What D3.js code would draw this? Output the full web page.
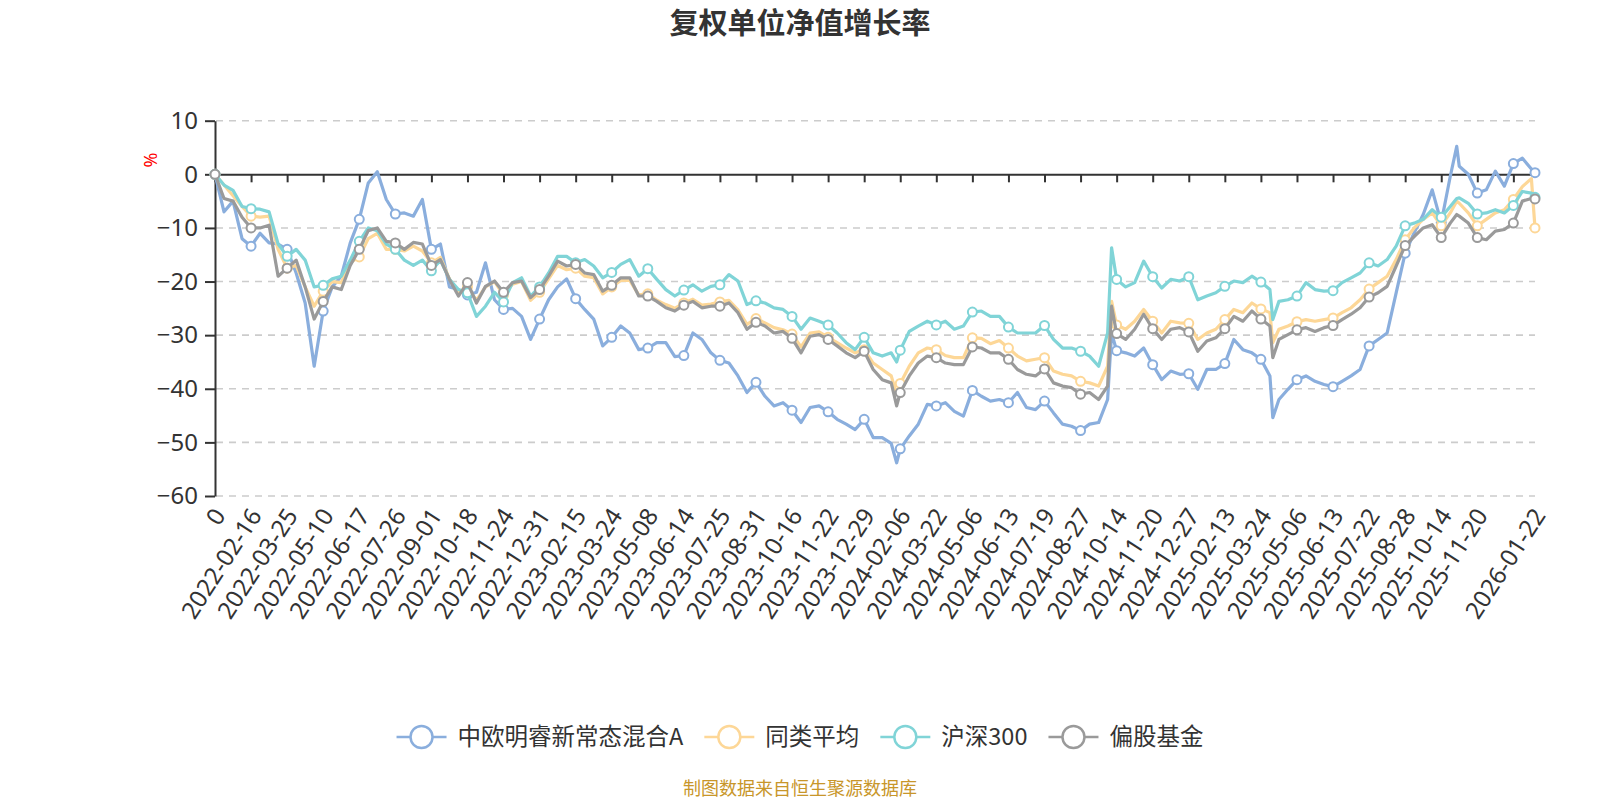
<!DOCTYPE html>
<html>
<head>
<meta charset="utf-8">
<script src="https://cdn.jsdelivr.net/npm/d3@7"></script>
<style>
  body { margin: 0; background: #fff; }
  svg { display: block; font-family: "Noto Sans", "Noto Sans CJK SC", sans-serif; }
</style>
</head>
<body>
<div id="chart"></div>
<script>
// frame
const FRAME_WIDTH = 1600;
const FRAME_HEIGHT = 800;
const MARGINS = {left: 215, right: 65, top: 120.7, bottom: 304};

// x labels (one per tick, the last one sits on the last trading day)
const tickLabels = ["0", "2022-02-16", "2022-03-25", "2022-05-10", "2022-06-17", "2022-07-26",
  "2022-09-01", "2022-10-18", "2022-11-24", "2022-12-31", "2023-02-15", "2023-03-24",
  "2023-05-08", "2023-06-14", "2023-07-25", "2023-08-31", "2023-10-16", "2023-11-22",
  "2023-12-29", "2024-02-06", "2024-03-22", "2024-05-06", "2024-06-13", "2024-07-19",
  "2024-08-27", "2024-10-14", "2024-11-20", "2024-12-27", "2025-02-13", "2025-03-24",
  "2025-05-06", "2025-06-13", "2025-07-22", "2025-08-28", "2025-10-14", "2025-11-20",
  "2026-01-22"];
const tickPos = [0, 1, 2, 3, 4, 5, 6, 7, 8, 9, 10, 11, 12, 13, 14, 15, 16, 17, 18, 19, 20,
  21, 22, 23, 24, 25, 26, 27, 28, 29, 30, 31, 32, 33, 34, 35, 36];
const yTicks = [-60, -50, -40, -30, -20, -10, 0, 10];

// sample positions, in tick intervals (about 26 trading days each)
const pos = [
  0, 0.25, 0.5, 0.75,   1, 1.25, 1.5, 1.75,   2, 2.25, 2.5, 2.75,   3, 3.25, 3.5, 3.75,
  4, 4.25, 4.5, 4.75,   5, 5.25, 5.5, 5.75,   6, 6.25, 6.5, 6.75,   7, 7.25, 7.5, 7.75,
  8, 8.25, 8.5, 8.75,   9, 9.25, 9.5, 9.75,   10, 10.25, 10.5, 10.75,   11, 11.25, 11.5, 11.75,
  12, 12.25, 12.5, 12.75,   13, 13.25, 13.5, 13.75,   14, 14.25, 14.5, 14.75,   15, 15.25, 15.5, 15.75,
  16, 16.25, 16.5, 16.75,   17, 17.25, 17.5, 17.75,   18, 18.25, 18.5, 18.75, 18.9,
  19, 19.25, 19.5, 19.75,   20, 20.25, 20.5, 20.75,   21, 21.25, 21.5, 21.75,   22, 22.25, 22.5, 22.75,
  23, 23.25, 23.5, 23.75,   24, 24.25, 24.5, 24.75, 24.86,   25, 25.25, 25.5, 25.75,
  26, 26.25, 26.5, 26.75,   27, 27.25, 27.5, 27.75,   28, 28.25, 28.5, 28.75,
  29, 29.25, 29.33, 29.5, 29.75,   30, 30.25, 30.5, 30.75,   31, 31.25, 31.5, 31.75,
  32, 32.25, 32.5, 32.75,   33, 33.25, 33.5, 33.75,   34, 34.25, 34.43, 34.5, 34.75,
  35, 35.25, 35.5, 35.75,   36, 36.25, 36.5, 36.6];

// 中欧明睿新常态混合A
const fundValues = [
  0, -7, -5, -12,   -13.4, -11, -12.8, -13,   -14, -18.4, -24, -35.8,   -25.5, -21, -19, -12.8,
  -8.4, -1.6, 0.5, -4.7,   -7.4, -7.2, -7.8, -4.7,   -14, -13, -21, -21.5,   -22.5, -22, -16.5, -23.4,
  -25.2, -25, -26.5, -30.8,   -27, -23.4, -21, -19.5,   -23.2, -25.2, -27, -32,   -30.4, -28.3, -29.6, -32.7,
  -32.4, -31.4, -31.4, -34,   -33.8, -29.6, -30.8, -33.3,   -34.7, -35.2, -37.6, -40.7,   -38.8, -41.4, -43.2, -42.6,
  -44, -46.3, -43.5, -43.2,   -44.3, -45.7, -46.6, -47.6,   -45.7, -49.1, -49.1, -50.2, -53.8,
  -51.2, -48.8, -46.6, -42.9,   -43.2, -42.6, -44.2, -45.1,   -40.3, -41.4, -42.3, -42,   -42.6, -40.7, -43.5, -43.9,
  -42.3, -44.5, -46.6, -47,   -47.8, -46.6, -46.3, -42, -29.6,   -32.9, -33.3, -33.9, -32.4,
  -35.5, -38.3, -36.7, -37.3,   -37.2, -40.1, -36.4, -36.4,   -35.3, -30.8, -32.7, -33.3,
  -34.5, -37.6, -45.4, -42, -40.1,   -38.3, -37.6, -38.6, -39.2,   -39.6, -38.6, -37.6, -36.4,
  -32, -30.8, -29.6, -22.1,   -14.7, -10.9, -7.5, -2.9,   -9, -0.4, 5.2, 1.5, 0,
  -3.5, -2.9, 0.6, -2.2,   2, 3, 1, 0.3];

// 同类平均
const peerValues = [
  0, -2, -4, -6,   -7.8, -8, -7.8, -14,   -17.5, -17, -21, -24.6,   -21.8, -20, -20.2, -16.5,
  -15.4, -12, -11, -14,   -14, -14.3, -13.4, -14.3,   -16.5, -15.5, -19.5, -22,   -21, -23.5, -21, -20,
  -22.5, -20.5, -20, -23.5,   -22, -19.5, -17, -17.8,   -17.5, -19, -19.3, -22.3,   -21, -19.8, -19.8, -22.5,
  -22.3, -23.5, -24.3, -25,   -24, -23.3, -24.4, -24.2,   -23.8, -23.5, -25.3, -28,   -26.9, -27.7, -28.6, -29,
  -29.8, -32.2, -29.6, -29.4,   -30.4, -31.4, -32.4, -33.3,   -32.7, -35.2, -36.4, -37.6, -41,
  -39, -35.8, -33.3, -32.4,   -32.7, -33.8, -34.2, -34.2,   -30.5, -30.6, -31.6, -31,   -32.4, -33.9, -34.8, -34.5,
  -34.2, -36.7, -37.3, -37.6,   -38.6, -38.9, -39.5, -35.8, -23.7,   -28.1, -28.9, -27.4, -25.2,
  -27.4, -29.6, -27.4, -27.7,   -27.8, -30.8, -29.6, -28.9,   -27.1, -25.2, -25.8, -24,
  -25.1, -25.8, -31.4, -28.9, -28.3,   -27.5, -27.1, -27.4, -27.1,   -26.8, -25.8, -24.9, -23.4,
  -21.4, -20.2, -19, -15.9,   -12.2, -10, -8.4, -7.2,   -9.6, -7.2, -5, -5.4, -7.2,
  -9.6, -8.4, -7.2, -6.6,   -4.7, -2.3, -0.8, -10];

// 沪深300
const hs300Values = [
  0, -2, -3, -6,   -6.4, -6.5, -7, -13,   -15.3, -14, -16, -21,   -20.7, -19.5, -19, -16,
  -12.5, -10, -10.5, -13,   -14, -16, -17, -16,   -18, -16, -19.6, -21.5,   -22.1, -26.5, -24.6, -22,
  -23.8, -20.2, -19.3, -22.7,   -21, -18.4, -15.3, -15.3,   -16.5, -15.9, -17.1, -19.3,   -18.3, -16.8, -15.9, -19,
  -17.6, -19.6, -21.5, -22.7,   -21.6, -20.6, -21.8, -20.9,   -20.6, -18.7, -19.9, -24.3,   -23.6, -24, -24.9, -25.2,
  -26.5, -28.9, -26.8, -27.4,   -28.1, -29.6, -31.4, -32.7,   -30.4, -33.3, -33.9, -33.3, -35,
  -32.8, -29.3, -28.3, -27.4,   -28.1, -27.4, -28.9, -28.3,   -25.7, -25.5, -26.5, -26.5,   -28.5, -29.6, -29.6, -29.6,
  -28.2, -30.8, -32.4, -32.4,   -33, -33.9, -35.8, -29.6, -13.7,   -19.6, -21, -20.2, -16.2,
  -19.1, -21.2, -19.6, -19.9,   -19.1, -23.4, -22.7, -22.1,   -20.9, -19.9, -20.2, -19,
  -20.1, -21.5, -27.1, -23.7, -23.4,   -22.7, -20.2, -21.5, -21.8,   -21.7, -20.2, -19.3, -18.4,
  -16.5, -17.1, -15.9, -13.4,   -9.6, -9.1, -8.4, -6.6,   -8, -6, -4.5, -4.4, -5.4,
  -7.4, -7.2, -6.6, -7.2,   -5.8, -3.2, -3.5, -4.3];

// 偏股基金
const equityValues = [
  0, -4.5, -5, -8,   -10, -10, -9.5, -19,   -17.5, -16, -21, -27,   -23.7, -21, -21.5, -17,
  -14, -10.5, -10, -12.5,   -12.8, -14, -12.7, -13,   -17, -15.9, -19.6, -22.7,   -20.2, -24, -20.9, -19.9,
  -22, -20.2, -19.9, -23,   -21.5, -19, -16.2, -17.1,   -16.8, -18.4, -18.7, -21.8,   -20.7, -19.3, -19.3, -22.7,
  -22.7, -23.7, -24.9, -25.5,   -24.4, -23.7, -24.9, -24.6,   -24.6, -24, -25.8, -28.9,   -27.6, -28.3, -29.6, -29.3,
  -30.6, -33.3, -30.2, -29.9,   -30.8, -32, -33.3, -34.2,   -33, -36.4, -38.3, -38.9, -43.2,
  -40.7, -37.6, -35.2, -33.9,   -34.2, -35.2, -35.5, -35.5,   -32.2, -32.4, -33.3, -33.3,   -34.5, -36.4, -37.3, -37.6,
  -36.3, -38.9, -39.5, -39.8,   -41, -40.7, -42, -39.5, -24.6,   -29.7, -30.8, -28.9, -26.1,
  -28.8, -30.8, -28.9, -28.6,   -29.4, -33, -31.1, -30.5,   -28.8, -26.5, -27.4, -25.5,
  -27, -28.3, -34.2, -30.8, -29.9,   -29, -28.6, -29.3, -28.6,   -28.2, -27.1, -26.1, -24.9,
  -22.9, -22.1, -20.9, -17.1,   -13.3, -11.6, -10, -9.4,   -11.8, -9.1, -7.5, -7.8, -9.1,
  -11.8, -12.2, -10.6, -10.3,   -9.1, -5, -4.5, -4.6];

const seriesNames = ["中欧明睿新常态混合A", "同类平均", "沪深300", "偏股基金"];
const seriesColors = ["#8aaedd", "#fdd797", "#80d4d7", "#9a9a9a"];
const seriesValues = [fundValues, peerValues, hs300Values, equityValues];

const lastPos = pos[pos.length - 1];
// label positions: every tick except the last one, then the last trading day
const labelPos = tickPos.slice(0, tickLabels.length - 1).concat([lastPos]);

const svg = d3.select("#chart")
  .append("svg")
  .attr("width", FRAME_WIDTH)
  .attr("height", FRAME_HEIGHT);

const xScale = d3.scaleLinear()
  .domain([0, lastPos])
  .range([MARGINS.left, FRAME_WIDTH - MARGINS.right]);

const yScale = d3.scaleLinear()
  .domain([-60, 10])
  .range([FRAME_HEIGHT - MARGINS.bottom, MARGINS.top]);

// title
svg.append("text")
  .attr("x", FRAME_WIDTH / 2)
  .attr("y", 24)
  .attr("dy", "0.35em")
  .attr("text-anchor", "middle")
  .attr("font-family", "'Noto Sans CJK SC', sans-serif")
  .attr("font-size", 29)
  .attr("font-weight", "bold")
  .attr("fill", "#333")
  .text("复权单位净值增长率");

// dashed grid lines
svg.append("g")
  .selectAll("line")
  .data(yTicks.filter(d => d !== 0))
  .enter()
  .append("line")
    .attr("x1", xScale(0) + 1)
    .attr("x2", xScale(lastPos))
    .attr("y1", d => yScale(d))
    .attr("y2", d => yScale(d))
    .attr("stroke", "#cccccc")
    .attr("stroke-width", 1.6)
    .attr("stroke-dasharray", "7,6");

// y axis
const yAxis = d3.axisLeft(yScale)
  .tickValues(yTicks)
  .tickSize(10)
  .tickSizeOuter(0)
  .tickPadding(7);

const gy = svg.append("g")
  .attr("transform", `translate(${xScale(0)},0)`)
  .call(yAxis);
gy.attr("font-family", null).attr("font-size", null);
gy.selectAll("path, line").attr("stroke", "#333").attr("stroke-width", 2);
gy.selectAll("text").attr("font-size", 24).attr("fill", "#333");

// unit label
svg.append("text")
  .attr("transform", "translate(151,160) rotate(-90)")
  .attr("text-anchor", "middle")
  .attr("dy", "0.35em")
  .attr("font-size", 18)
  .attr("fill", "#ff0000")
  .text("%");

// x axis line along zero, ticks pointing down
const xAxis = d3.axisBottom(xScale)
  .tickValues(tickPos)
  .tickSize(8)
  .tickSizeOuter(0)
  .tickFormat("");

const gx = svg.append("g")
  .attr("transform", `translate(0,${yScale(0)})`)
  .call(xAxis);
gx.selectAll("path, line").attr("stroke", "#333").attr("stroke-width", 2);

// rotated date labels below the plot
const labelAxis = d3.axisBottom(xScale)
  .tickValues(labelPos)
  .tickSize(0)
  .tickSizeOuter(0)
  .tickFormat((d, i) => tickLabels[i]);

const gl = svg.append("g")
  .attr("transform", `translate(0,${yScale(-60)})`)
  .call(labelAxis);
gl.attr("font-family", null).attr("font-size", null);
gl.select(".domain").remove();
gl.selectAll("text")
  .attr("font-size", 24)
  .attr("fill", "#333")
  .attr("text-anchor", "end")
  .attr("y", 0)
  .attr("dy", "0.35em")
  .attr("transform", "translate(4,15) rotate(-57)");

// series lines and markers
const line = d3.line()
  .x(d => xScale(d.p))
  .y(d => yScale(d.v));

seriesValues.forEach(function(values, s) {
  const points = pos.map((p, i) => ({p: p, v: values[i]}));
  const g = svg.append("g").attr("class", "series");

  g.append("path")
    .datum(points)
    .attr("d", line)
    .attr("fill", "none")
    .attr("stroke", seriesColors[s])
    .attr("stroke-width", 3.2)
    .attr("stroke-linejoin", "round");

  // symbols show on each tick and on the final day
  g.selectAll("circle")
    .data(points.filter(d => Number.isInteger(d.p) || d.p === lastPos))
    .enter()
    .append("circle")
      .attr("cx", d => xScale(d.p))
      .attr("cy", d => yScale(d.v))
      .attr("r", 4.5)
      .attr("fill", "#fff")
      .attr("stroke", seriesColors[s])
      .attr("stroke-width", 2);
});

// legend, centred under the plot
const legend = svg.append("g").attr("transform", "translate(0,737)");
const items = legend.selectAll("g")
  .data(seriesNames)
  .enter()
  .append("g");

items.append("line")
  .attr("x1", 0).attr("x2", 50)
  .attr("stroke", (d, i) => seriesColors[i])
  .attr("stroke-width", 2.5);
items.append("circle")
  .attr("cx", 25)
  .attr("r", 11)
  .attr("fill", "#fff")
  .attr("stroke", (d, i) => seriesColors[i])
  .attr("stroke-width", 2.5);
items.append("text")
  .attr("x", 61)
  .attr("dy", "0.35em")
  .attr("font-family", "'Noto Sans CJK SC', sans-serif")
  .attr("font-size", 23.5)
  .attr("fill", "#333")
  .text(d => d);

let widths = [];
items.each(function() { widths.push(61 + d3.select(this).select("text").node().getComputedTextLength()); });
const total = d3.sum(widths) + 21 * (widths.length - 1);
let cursor = FRAME_WIDTH / 2 - total / 2;
items.attr("transform", function(d, i) {
  const x = cursor;
  cursor += widths[i] + 21;
  return `translate(${x},0)`;
});

// source note
svg.append("text")
  .attr("x", FRAME_WIDTH / 2)
  .attr("y", 789)
  .attr("dy", "0.35em")
  .attr("text-anchor", "middle")
  .attr("font-family", "'Noto Sans CJK SC', sans-serif")
  .attr("font-size", 18)
  .attr("fill", "#c8962a")
  .text("制图数据来自恒生聚源数据库");
</script>
</body>
</html>
